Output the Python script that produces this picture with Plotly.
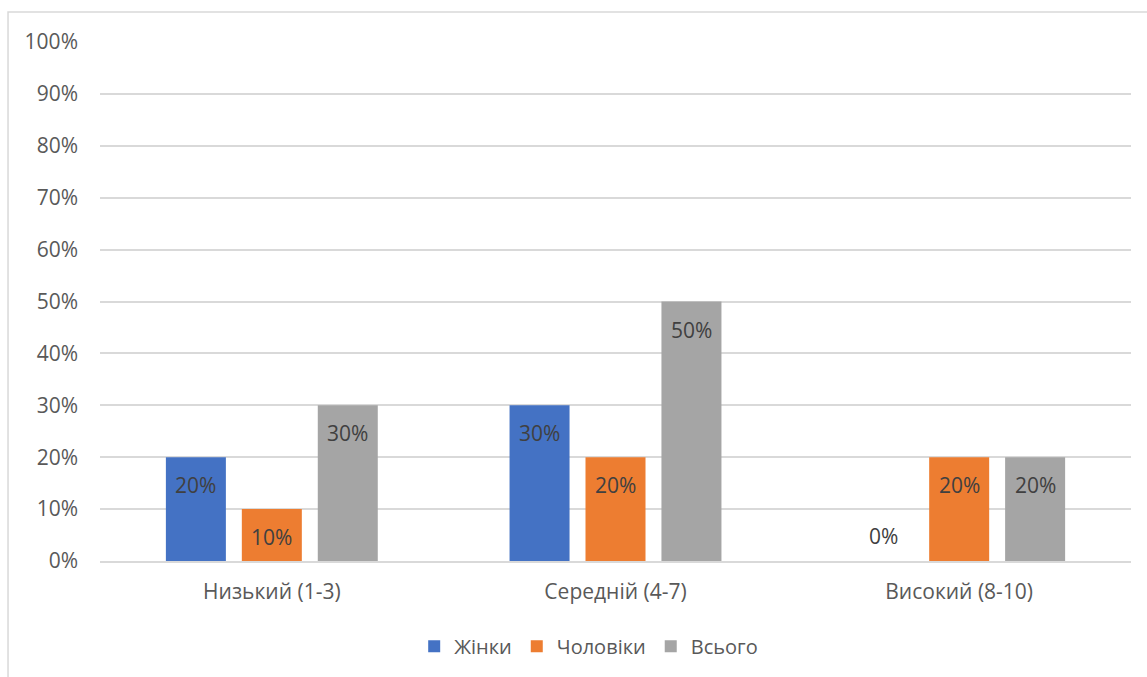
import plotly.graph_objects as go

categories = ["Низький (1-3)", "Середній (4-7)", "Високий (8-10)"]
women = [0.20, 0.30, 0.00]
men = [0.10, 0.20, 0.20]
total = [0.30, 0.50, 0.20]
series_names = ["Жінки", "Чоловіки", "Всього"]
colors = ["#4472C4", "#ED7D31", "#A5A5A5"]

FONT = "Open Sans"
FONT_SIZE = 21
TEXT_COLOR = "#595959"
LABEL_COLOR = "#404040"

# bar geometry (pixels): bar width 60, gap between bars 16
BAR_SLOT = 76
LABEL_DROP = 28     # label centre below the bar top
ZERO_LIFT = 25      # label centre above the axis for zero-height bars

fig = go.Figure()
annotations = []
series = [women, men, total]
for i, (name, vals, col) in enumerate(zip(series_names, series, colors)):
    fig.add_trace(go.Bar(
        x=categories,
        y=vals,
        name=name,
        marker=dict(color=col, line=dict(width=0)),
        hoverinfo="skip",
    ))
    for cat, v in zip(categories, vals):
        annotations.append(dict(
            x=cat, y=v, xref="x", yref="y",
            text=f"{v:.0%}",
            showarrow=False,
            xanchor="center", yanchor="middle",
            xshift=(i - 1) * BAR_SLOT,
            yshift=-LABEL_DROP if v > 0 else ZERO_LIFT,
            font=dict(family=FONT, size=FONT_SIZE, color=LABEL_COLOR),
        ))

fig.update_layout(
    width=1147,
    height=677,
    margin=dict(l=100, r=16, t=42, b=115),
    paper_bgcolor="white",
    plot_bgcolor="white",
    barmode="group",
    bargap=0.337,
    bargroupgap=0.21,
    font=dict(family=FONT, size=FONT_SIZE, color=TEXT_COLOR),
    showlegend=True,
    legend=dict(
        orientation="h",
        x=0.474, xanchor="center",
        y=-0.162, yanchor="middle",
        font=dict(family=FONT, size=20, color=TEXT_COLOR),
        itemwidth=30,
        traceorder="normal",
    ),
    annotations=annotations,
    shapes=[dict(
        type="rect", xref="paper", yref="paper",
        x0=-0.0892, y0=-0.4, x1=1.2, y1=1.0577,
        line=dict(color="#d9d9d9", width=1.5),
        fillcolor="rgba(0,0,0,0)", layer="below",
    )],
)

fig.update_yaxes(
    range=[0, 1],
    dtick=0.1,
    tickformat=".0%",
    showgrid=True,
    gridcolor="#d9d9d9",
    gridwidth=1.5,
    zeroline=False,
    showline=False,
    ticks="",
    ticklabelstandoff=21,
    tickfont=dict(family=FONT, size=FONT_SIZE, color=TEXT_COLOR),
)
fig.update_xaxes(
    showline=True,
    linecolor="#d9d9d9",
    linewidth=1.5,
    ticks="",
    ticklabelstandoff=11,
    tickfont=dict(family=FONT, size=FONT_SIZE, color=TEXT_COLOR),
)

fig.write_html("out.html")
